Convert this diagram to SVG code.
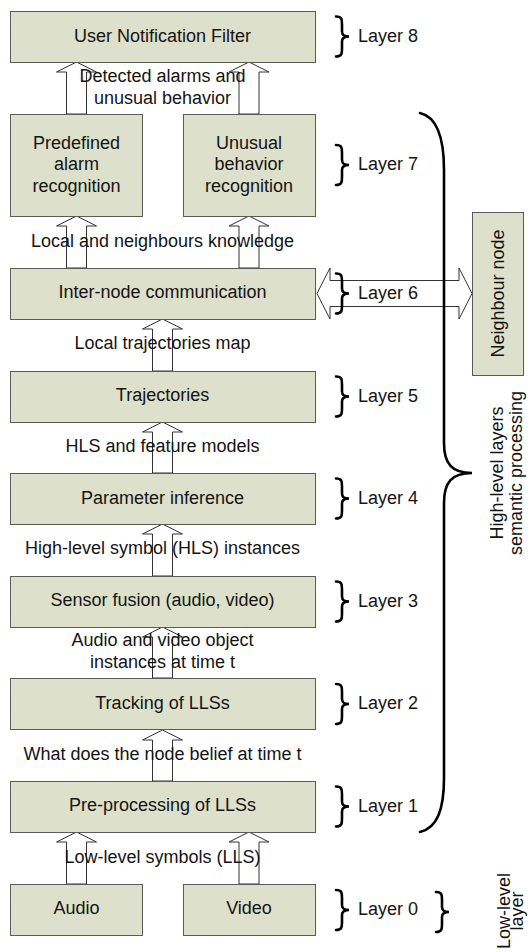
<svg xmlns="http://www.w3.org/2000/svg" xmlns:xlink="http://www.w3.org/1999/xlink" width="528" height="952" viewBox="0 0 528 952">
<style>
.box{fill:#dde0cb;stroke:#5a5a5a;stroke-width:1}
.t{font-family:"Liberation Sans",Arial,sans-serif;font-size:18px;fill:#141414;text-anchor:middle}
.l{font-family:"Liberation Sans",Arial,sans-serif;font-size:18px;fill:#141414}
.arr{fill:#ffffff;stroke:#333333;stroke-width:1}
.br{fill:none;stroke:#000000;stroke-width:2.6;stroke-linecap:round}
</style>
<defs>
<path id="brace" d="M0,-20 C6,-20 6,-17 6,-12 L6,-5 C6,-1 9,0 13,0 C9,0 6,1 6,5 L6,12 C6,17 6,20 0,20"/>
</defs>
<rect width="528" height="952" fill="#ffffff"/>
<g id="connectors">
<path class="arr" d="M76.5,62 L96.5,72 L86.5,72 L86.5,114 L66.5,114 L66.5,72 L56.5,72 Z"/>
<path class="arr" d="M249,62 L269,72 L259,72 L259,114 L239,114 L239,72 L229,72 Z"/>
<path class="arr" d="M76.5,216 L96.5,226 L86.5,226 L86.5,268 L66.5,268 L66.5,226 L56.5,226 Z"/>
<path class="arr" d="M249,216 L269,226 L259,226 L259,268 L239,268 L239,226 L229,226 Z"/>
<path class="arr" d="M162.5,319 L182.5,329 L172.5,329 L172.5,371 L152.5,371 L152.5,329 L142.5,329 Z"/>
<path class="arr" d="M162.5,422 L182.5,432 L172.5,432 L172.5,473 L152.5,473 L152.5,432 L142.5,432 Z"/>
<path class="arr" d="M162.5,524 L182.5,534 L172.5,534 L172.5,576 L152.5,576 L152.5,534 L142.5,534 Z"/>
<path class="arr" d="M162.5,627 L182.5,637 L172.5,637 L172.5,678 L152.5,678 L152.5,637 L142.5,637 Z"/>
<path class="arr" d="M162.5,730 L182.5,740 L172.5,740 L172.5,781 L152.5,781 L152.5,740 L142.5,740 Z"/>
<path class="arr" d="M76.5,832 L96.5,842 L86.5,842 L86.5,884 L66.5,884 L66.5,842 L56.5,842 Z"/>
<path class="arr" d="M249,832 L269,842 L259,842 L259,884 L239,884 L239,842 L229,842 Z"/>
<path class="arr" d="M317,293.5 L330,268 L330,280.5 L459,280.5 L459,268 L472,293.5 L459,319 L459,306.5 L330,306.5 L330,319 Z"/>
</g>
<g id="n-unf"><rect class="box" x="10.5" y="11.5" width="305" height="51"/><text class="t" x="162.5" y="41.5">User Notification Filter</text></g>
<g id="n-predef"><rect class="box" x="10.5" y="114.5" width="132" height="102"/><text class="t" x="76.5" y="148.5">Predefined</text><text class="t" x="76.5" y="170">alarm</text><text class="t" x="76.5" y="191.5">recognition</text></g>
<g id="n-unusual"><rect class="box" x="183.5" y="114.5" width="132" height="102"/><text class="t" x="249" y="148.5">Unusual</text><text class="t" x="249" y="170">behavior</text><text class="t" x="249" y="191.5">recognition</text></g>
<g id="n-inter"><rect class="box" x="10.5" y="268.5" width="305" height="51"/><text class="t" x="162.5" y="298">Inter-node communication</text></g>
<g id="n-traj"><rect class="box" x="10.5" y="371.5" width="305" height="51"/><text class="t" x="162.5" y="401">Trajectories</text></g>
<g id="n-param"><rect class="box" x="10.5" y="473.5" width="305" height="51"/><text class="t" x="162.5" y="503.5">Parameter inference</text></g>
<g id="n-sensor"><rect class="box" x="10.5" y="576.5" width="305" height="51"/><text class="t" x="162.5" y="606">Sensor fusion (audio, video)</text></g>
<g id="n-track"><rect class="box" x="10.5" y="678.5" width="305" height="51"/><text class="t" x="162.5" y="708.5">Tracking of LLSs</text></g>
<g id="n-pre"><rect class="box" x="10.5" y="781.5" width="305" height="51"/><text class="t" x="162.5" y="811">Pre-processing of LLSs</text></g>
<g id="n-audio"><rect class="box" x="10.5" y="884.5" width="132" height="51"/><text class="t" x="76.5" y="914">Audio</text></g>
<g id="n-video"><rect class="box" x="183.5" y="884.5" width="132" height="51"/><text class="t" x="249" y="914">Video</text></g>
<g id="n-neighbour"><rect class="box" x="472.5" y="212.5" width="51" height="163"/><text class="t" transform="translate(504,293.5) rotate(-90)">Neighbour node</text></g>
<g id="labels">
<text class="t" x="162.5" y="82">Detected alarms and</text>
<text class="t" x="162.5" y="103.5">unusual behavior</text>
<text class="t" x="162.5" y="247">Local and neighbours knowledge</text>
<text class="t" x="162.5" y="349">Local trajectories map</text>
<text class="t" x="162.5" y="452">HLS and feature models</text>
<text class="t" x="162.5" y="553.5">High-level symbol (HLS) instances</text>
<text class="t" x="162.5" y="646">Audio and video object</text>
<text class="t" x="162.5" y="668">instances at time t</text>
<text class="t" x="162.5" y="760">What does the node belief at time t</text>
<text class="t" x="162.5" y="863">Low-level symbols (LLS)</text>
</g>
<g id="layers">
<use class="br" xlink:href="#brace" x="336" y="36.5"/><text class="l" x="358" y="42">Layer 8</text>
<use class="br" xlink:href="#brace" x="336" y="165"/><text class="l" x="358" y="170">Layer 7</text>
<use class="br" xlink:href="#brace" x="336" y="293.5"/><text class="l" x="358" y="298.5">Layer 6</text>
<use class="br" xlink:href="#brace" x="336" y="396.5"/><text class="l" x="358" y="401.5">Layer 5</text>
<use class="br" xlink:href="#brace" x="336" y="498.5"/><text class="l" x="358" y="503.5">Layer 4</text>
<use class="br" xlink:href="#brace" x="336" y="601.5"/><text class="l" x="358" y="606.5">Layer 3</text>
<use class="br" xlink:href="#brace" x="336" y="704"/><text class="l" x="358" y="709">Layer 2</text>
<use class="br" xlink:href="#brace" x="336" y="806.5"/><text class="l" x="358" y="811.5">Layer 1</text>
<use class="br" xlink:href="#brace" x="336" y="910"/><text class="l" x="358" y="915">Layer 0</text>
<use class="br" xlink:href="#brace" x="436" y="912"/>
<path class="br" d="M420,113 C437,117 444,138 444,170 L444,443 C444,464 452,473 472,473 C452,473 444,482 444,503 L444,778 C444,810 437,828 420,832"/>
<text class="t" transform="translate(503,473) rotate(-90)">High-level layers</text>
<text class="t" transform="translate(522,473) rotate(-90)">semantic processing</text>
<text class="t" transform="translate(510,911) rotate(-90)">Low-level</text>
<text class="t" transform="translate(523,911) rotate(-90)">layer</text>
</g>
</svg>
